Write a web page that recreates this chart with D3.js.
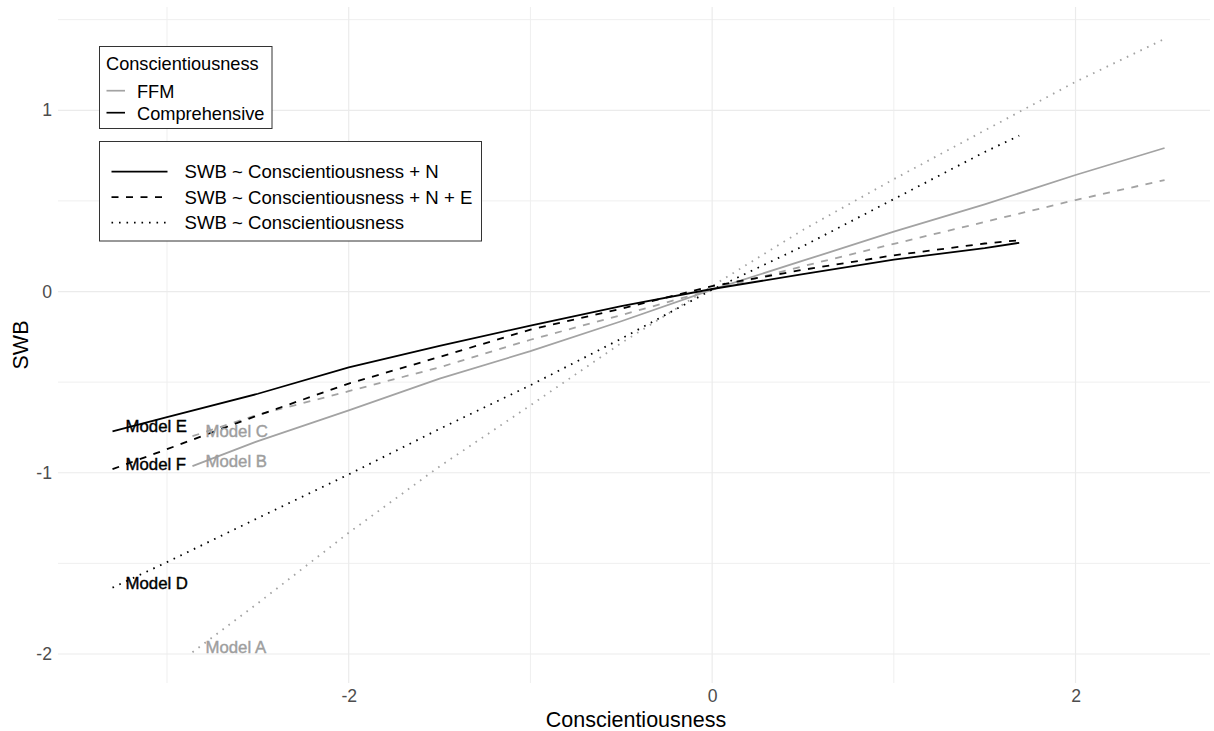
<!DOCTYPE html>
<html>
<head>
<meta charset="utf-8">
<script src="https://cdn.jsdelivr.net/npm/d3@7"></script>
<style>
  html, body { margin: 0; padding: 0; background: #ffffff; }
  svg { display: block; font-family: "Liberation Sans", Arial, sans-serif; }
</style>
</head>
<body>
<svg id="chart" width="1214" height="731"></svg>
<script>
// ---------- data ----------
const xFFM  = [-2.86, -2.5, -2.0, -1.5, -1.0, -0.5, 0.0, 0.5, 1.0, 1.5, 2.0, 2.49];
const xComp = [-3.30, -3.0, -2.5, -2.0, -1.5, -1.0, -0.5, 0.0, 0.5, 1.0, 1.5, 1.69];

const modelA = [-1.99, -1.72, -1.331, -0.965, -0.628, -0.284, 0.03, 0.34, 0.62, 0.889, 1.157, 1.394]; // FFM, SWB ~ C
const modelB = [-0.963, -0.825, -0.656, -0.48, -0.329, -0.164, 0.01, 0.17, 0.33, 0.481, 0.643, 0.792]; // FFM, + N
const modelC = [-0.798, -0.68, -0.55, -0.418, -0.266, -0.13, 0.01, 0.14, 0.263, 0.384, 0.505, 0.615]; // FFM, + N + E
const modelD = [-1.634, -1.493, -1.25, -1.009, -0.758, -0.517, -0.26, 0.01, 0.25, 0.51, 0.77, 0.86]; // Comp, SWB ~ C
const modelE = [-0.772, -0.693, -0.564, -0.418, -0.30, -0.188, -0.08, 0.014, 0.096, 0.176, 0.24, 0.269]; // Comp, + N
const modelF = [-0.98, -0.87, -0.683, -0.508, -0.361, -0.21, -0.095, 0.03, 0.12, 0.2, 0.265, 0.283]; // Comp, + N + E

const modelNames   = ["Model A", "Model B", "Model C", "Model D", "Model E", "Model F"];
const modelSets    = ["FFM", "FFM", "FFM", "Comprehensive", "Comprehensive", "Comprehensive"];
const modelFormula = ["SWB ~ Conscientiousness", "SWB ~ Conscientiousness + N", "SWB ~ Conscientiousness + N + E",
                      "SWB ~ Conscientiousness", "SWB ~ Conscientiousness + N", "SWB ~ Conscientiousness + N + E"];
const modelValues  = [modelA, modelB, modelC, modelD, modelE, modelF];

const setLevels     = ["FFM", "Comprehensive"];
const formulaLevels = ["SWB ~ Conscientiousness + N", "SWB ~ Conscientiousness + N + E", "SWB ~ Conscientiousness"];

const xTicks = [-2, 0, 2];
const xMinor = [-3, -1, 1];
const yTicks = [-2, -1, 0, 1];
const yMinor = [-1.5, -0.5, 0.5, 1.5];

// ---------- styles ----------
const setColor = { "FFM": "#a3a3a3", "Comprehensive": "#000000" };
const labelColor = { "FFM": "#9e9e9e", "Comprehensive": "#000000" };
const dashFor = {
  "SWB ~ Conscientiousness + N": null,
  "SWB ~ Conscientiousness + N + E": "7,7.5",
  "SWB ~ Conscientiousness": "1.6,5.9"
};

const svg = d3.select("#chart");
const panel = { left: 58, right: 1210, top: 7, bottom: 683 };

const x = d3.scaleLinear().domain([-3.6, 2.74]).range([panel.left, panel.right]);
const y = d3.scaleLinear().domain([-2.16, 1.57]).range([panel.bottom, panel.top]);

// ---------- grid ----------
const grid = svg.append("g");
grid.selectAll(".vmin").data(xMinor).join("line")
  .attr("x1", d => x(d)).attr("x2", d => x(d)).attr("y1", panel.top).attr("y2", panel.bottom)
  .attr("stroke", "#efefef").attr("stroke-width", 1);
grid.selectAll(".hmin").data(yMinor).join("line")
  .attr("y1", d => y(d)).attr("y2", d => y(d)).attr("x1", panel.left).attr("x2", panel.right)
  .attr("stroke", "#efefef").attr("stroke-width", 1);
grid.selectAll(".vmaj").data(xTicks).join("line")
  .attr("x1", d => x(d)).attr("x2", d => x(d)).attr("y1", panel.top).attr("y2", panel.bottom)
  .attr("stroke", "#ebebeb").attr("stroke-width", 1.2);
grid.selectAll(".hmaj").data(yTicks).join("line")
  .attr("y1", d => y(d)).attr("y2", d => y(d)).attr("x1", panel.left).attr("x2", panel.right)
  .attr("stroke", "#ebebeb").attr("stroke-width", 1.2);

// ---------- axes ----------
const fmt = d => String(d);
const xAxis = svg.append("g").attr("transform", `translate(0,${panel.bottom})`)
  .call(d3.axisBottom(x).tickValues(xTicks).tickSize(0).tickPadding(7).tickFormat(fmt));
const yAxis = svg.append("g").attr("transform", `translate(${panel.left},0)`)
  .call(d3.axisLeft(y).tickValues(yTicks).tickSize(0).tickPadding(6).tickFormat(fmt));
[xAxis, yAxis].forEach(a => {
  a.select(".domain").remove();
  a.selectAll("text").attr("fill", "#4d4d4d").style("font-size", "17.6px")
   .style("font-family", "'Liberation Sans', Arial, sans-serif");
});

svg.append("text").attr("x", (panel.left + panel.right) / 2 + 2).attr("y", 727)
  .attr("text-anchor", "middle").style("font-size", "21.5px").attr("fill", "#000")
  .text("Conscientiousness");
svg.append("text").attr("transform", `translate(28,${(panel.top + panel.bottom) / 2}) rotate(-90)`)
  .attr("text-anchor", "middle").style("font-size", "21.5px").attr("fill", "#000")
  .text("SWB");

// ---------- lines ----------
const line = d3.line().x(d => x(d[0])).y(d => y(d[1]));
const models = modelNames.map((n, i) => {
  const xs = modelSets[i] === "FFM" ? xFFM : xComp;
  return { name: n, set: modelSets[i], formula: modelFormula[i], pts: xs.map((v, j) => [v, modelValues[i][j]]) };
});

const linesG = svg.append("g");
linesG.selectAll("path").data(models).join("path")
  .attr("d", d => line(d.pts))
  .attr("fill", "none")
  .attr("stroke", d => setColor[d.set])
  .attr("stroke-width", 1.8)
  .attr("stroke-dasharray", d => dashFor[d.formula]);

// ---------- labels ----------
svg.append("g").selectAll("text").data(models).join("text")
  .attr("x", d => x(d.pts[0][0]) + 13)
  .attr("y", d => y(d.pts[0][1]) + 1)
  .attr("fill", d => labelColor[d.set])
  .attr("stroke", d => labelColor[d.set]).attr("stroke-width", 0.4)
  .style("font-size", "16.8px")
  .text(d => d.name);

// ---------- legend 1 (colour) ----------
const lg1 = svg.append("g");
lg1.append("rect").attr("x", 99.5).attr("y", 46.5).attr("width", 172.5).attr("height", 82)
  .attr("fill", "#fff").attr("stroke", "#333").attr("stroke-width", 1);
lg1.append("text").attr("x", 106).attr("y", 70).style("font-size", "18.2px").attr("fill", "#000")
  .text("Conscientiousness");
setLevels.forEach((s, i) => {
  const cy = 90.7 + i * 22;
  lg1.append("line").attr("x1", 106.5).attr("x2", 125).attr("y1", cy).attr("y2", cy)
    .attr("stroke", setColor[s]).attr("stroke-width", 1.7);
  lg1.append("text").attr("x", 137).attr("y", cy + 7).style("font-size", "18.2px").attr("fill", "#000").text(s);
});

// ---------- legend 2 (linetype) ----------
const lg2 = svg.append("g");
lg2.append("rect").attr("x", 99.5).attr("y", 141.5).attr("width", 382).attr("height", 99.5)
  .attr("fill", "#fff").attr("stroke", "#333").attr("stroke-width", 1);
formulaLevels.forEach((f, i) => {
  const cy = 171.7 + i * 25.5;
  lg2.append("line").attr("x1", 111.5).attr("x2", 167.5).attr("y1", cy).attr("y2", cy)
    .attr("stroke", "#000").attr("stroke-width", 1.7).attr("stroke-dasharray", dashFor[f]);
  lg2.append("text").attr("x", 184.5).attr("y", cy + 6.5).style("font-size", "18.6px").attr("fill", "#000").text(f);
});
</script>
</body>
</html>
